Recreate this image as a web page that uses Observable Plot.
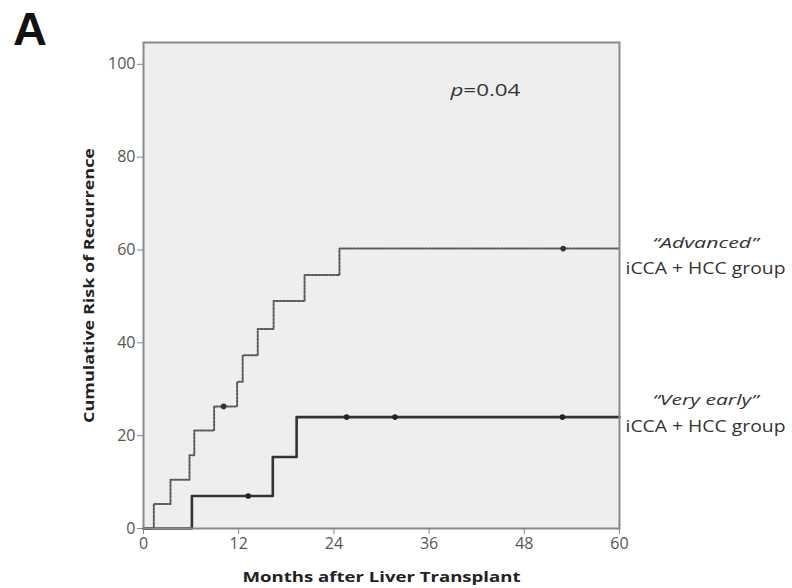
<!DOCTYPE html>
<html>
<head>
<meta charset="utf-8">
<script src="https://cdn.jsdelivr.net/npm/d3@7"></script>
<script src="https://cdn.jsdelivr.net/npm/@observablehq/plot@0.6"></script>
<style>
  html, body { margin: 0; padding: 0; background: #fff; }
  #chart { position: relative; width: 792px; height: 588px; }
</style>
</head>
<body>
<div id="chart"></div>
<script>
// Advanced iCCA + HCC group (dotted step curve)
const advTime = [0, 1.3, 3.4, 5.8, 6.4, 8.9, 11.8, 12.5, 14.4, 16.4, 20.3, 24.7, 60];
const advRisk = [0, 5.3, 10.5, 15.8, 21.1, 26.3, 31.6, 37.3, 43.0, 49.0, 54.6, 60.3, 60.3];
const advCensorTime = [10.1, 52.9];
const advCensorRisk = [26.3, 60.3];

// Very early iCCA + HCC group (solid step curve)
const earlyTime = [0, 6.1, 16.3, 19.3, 60];
const earlyRisk = [0, 7.0, 15.4, 24.0, 24.0];
const earlyCensorTime = [13.2, 25.6, 31.7, 52.8];
const earlyCensorRisk = [7.0, 24.0, 24.0, 24.0];

const xTicks = [0, 12, 24, 36, 48, 60];
const yTicks = [0, 20, 40, 60, 80, 100];

const groupNames = ["\u201CAdvanced\u201D", "\u201CVery early\u201D"];
const groupNameY = [61.4, 27.6];
const groupSub = ["iCCA + HCC group", "iCCA + HCC group"];
const groupSubY = [56.0, 22.0];
const pLabel = [{x: 43.1, y: 94.4}];

const adv = advTime.map((t, i) => ({t, r: advRisk[i]}));
const early = earlyTime.map((t, i) => ({t, r: earlyRisk[i]}));
const advC = advCensorTime.map((t, i) => ({t, r: advCensorRisk[i]}));
const earlyC = earlyCensorTime.map((t, i) => ({t, r: earlyCensorRisk[i]}));
const names = groupNames.map((text, i) => ({x: 60, y: groupNameY[i], text}));
const subs = groupSub.map((text, i) => ({x: 60, y: groupSubY[i], text}));

const font = "'Open Sans', 'DejaVu Sans', sans-serif";

const plot = Plot.plot({
  width: 792,
  height: 588,
  marginLeft: 143,
  marginRight: 173,
  marginTop: 42,
  marginBottom: 60,
  style: {fontFamily: font, background: "#fff", overflow: "visible"},
  x: {domain: [0, 60]},
  y: {domain: [0, 104.7]},
  marks: [
    Plot.frame({fill: "#eeeeee", stroke: null}),
    Plot.axisX({ticks: xTicks, tickSize: 6, tickPadding: 3, stroke: "#888", fill: "#555", fontSize: 16,
      label: "Months after Liver Transplant", labelAnchor: "center", labelArrow: "none", labelOffset: 53}),
    Plot.axisY({ticks: yTicks, tickSize: 6, tickPadding: 2, stroke: "#888", fill: "#555", fontSize: 16,
      label: "Cumulative Risk of Recurrence", labelAnchor: "center", labelArrow: "none", labelOffset: 59}),
    Plot.line(adv, {x: "t", y: "r", curve: "step-after", stroke: "#5a5a5a", strokeWidth: 2, strokeDasharray: "2,1.6"}),
    Plot.line(early, {x: "t", y: "r", curve: "step-after", stroke: "#333", strokeWidth: 2.6}),
    Plot.dot(advC, {x: "t", y: "r", r: 2.8, fill: "#333", stroke: null}),
    Plot.dot(earlyC, {x: "t", y: "r", r: 2.8, fill: "#222", stroke: null}),
    Plot.frame({stroke: "#8a8a8a", strokeWidth: 2}),
    Plot.text(pLabel, {x: "x", y: "y", text: () => "p=0.04", fontSize: 17, fill: "#333"}),
    Plot.text(names, {x: "x", y: "y", text: "text", dx: 86, fontSize: 15, fill: "#333", fontStyle: "italic"}),
    Plot.text(subs, {x: "x", y: "y", text: "text", dx: 86, fontSize: 16, fill: "#333"})
  ]
});

const svg = d3.select(plot);
// bold, stretched axis labels
svg.selectAll("[aria-label='x-axis label'] text")
  .attr("font-weight", "bold").attr("fill", "#222").attr("font-size", 14)
  .attr("textLength", 278).attr("lengthAdjust", "spacingAndGlyphs");
svg.selectAll("[aria-label='y-axis label'] text")
  .attr("font-weight", "bold").attr("fill", "#222").attr("font-size", 14)
  .attr("textLength", 275).attr("lengthAdjust", "spacingAndGlyphs");
// stretch group labels
svg.selectAll("text").each(function() {
  const s = this.textContent;
  const t = d3.select(this);
  if (s === "iCCA + HCC group") t.attr("textLength", 160).attr("lengthAdjust", "spacingAndGlyphs");
  else if (s === groupNames[0] || s === groupNames[1]) t.attr("textLength", 106).attr("lengthAdjust", "spacingAndGlyphs");
});
// italic p in p-value
svg.selectAll("text").filter(function() { return this.textContent === "p=0.04"; })
  .each(function() {
    const t = d3.select(this);
    t.text(null);
    t.attr("textLength", 70).attr("lengthAdjust", "spacingAndGlyphs");
    t.append("tspan").attr("font-style", "italic").text("p");
    t.append("tspan").text("=0.04");
  });
// panel letter
svg.append("text")
  .attr("x", 30).attr("y", 45)
  .attr("text-anchor", "middle")
  .attr("font-family", "'Liberation Sans', Arial, sans-serif")
  .attr("font-weight", "bold")
  .attr("font-size", 47)
  .attr("fill", "#111")
  .text("A");

document.getElementById("chart").appendChild(plot);
</script>
</body>
</html>
